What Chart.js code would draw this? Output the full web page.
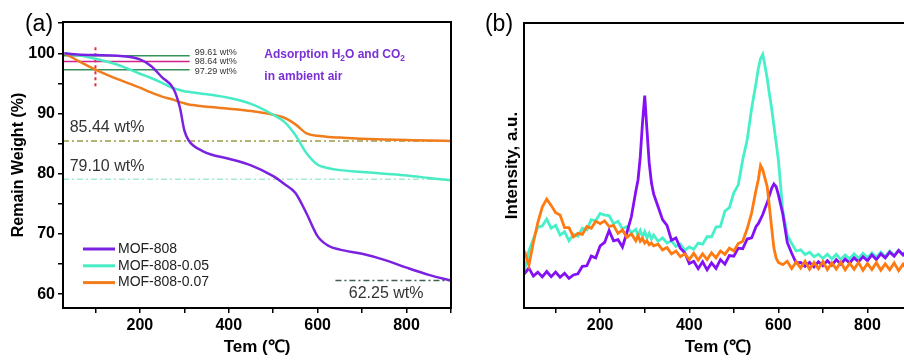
<!DOCTYPE html>
<html>
<head>
<meta charset="utf-8">
<script src="https://cdn.jsdelivr.net/npm/chart.js@4.4.0/dist/chart.umd.min.js"></script>
<style>
  html, body { margin: 0; padding: 0; background: #fff; }
  #wrap { position: relative; width: 904px; height: 360px; overflow: hidden; }
  .box { position: absolute; top: 0; width: 460px; height: 360px; }
  canvas { display: block; }
</style>
</head>
<body>
<div id="wrap">
  <div class="box" style="left:0"><canvas id="tgaChart" width="460" height="360"></canvas></div>
  <div class="box" style="left:460px"><canvas id="tpdChart" width="460" height="360"></canvas></div>
</div>
<script>
// ---- panel (a): TGA ----
const tgaTemp = [30, 60, 100, 150, 200, 225, 250, 275, 290, 300, 310, 320, 340, 360, 400, 450, 500, 525, 550, 575, 600, 625, 650, 700, 750, 800, 850, 900];
const tgaMOF808 = [100.0, 99.8, 99.7, 99.6, 99.0, 97.9, 96.0, 94.2, 91.0, 87.2, 85.5, 84.7, 83.8, 83.2, 82.5, 81.4, 79.6, 78.3, 76.8, 73.4, 69.6, 68.0, 67.4, 66.7, 65.7, 64.4, 63.2, 62.25];
const tgaMOF808_005 = [100.0, 99.7, 99.1, 98.1, 96.6, 95.9, 95.1, 94.2, 93.9, 93.7, 93.6, 93.5, 93.3, 93.1, 92.6, 91.6, 89.8, 88.6, 86.4, 83.4, 81.5, 80.9, 80.6, 80.3, 80.0, 79.7, 79.3, 78.9];
const tgaMOF808_007 = [100.0, 98.8, 97.3, 95.7, 94.3, 93.5, 92.8, 92.3, 91.9, 91.7, 91.5, 91.4, 91.2, 91.1, 90.8, 90.4, 89.8, 89.3, 88.2, 86.7, 86.3, 86.1, 86.0, 85.8, 85.7, 85.6, 85.5, 85.44];

const residueLevels = [85.44, 79.10, 62.25];
const residueStart = [27, 27, 640];
const waterLevels = [99.61, 98.64, 97.29];
const waterEnd = 312;
const markTemp = 100;
const markRange = [101.0, 94.4];

const seriesNames = ['MOF-808', 'MOF-808-0.05', 'MOF-808-0.07'];

// ---- panel (b): intensity vs temperature (a.u.) ----
const tpdTemp = [30, 40, 50, 60, 70, 80, 90, 100, 110, 120, 130, 140, 150, 160, 170, 180, 190, 200, 210, 220, 230, 240, 250, 260, 270, 280,
  285, 290, 295, 300, 305, 310, 315, 320,
  330, 340, 350, 360, 370, 380, 390, 400, 410, 420, 430, 440, 450, 460, 470, 480, 490, 500, 510, 520, 530, 540, 550,
  555, 560, 565, 570, 575, 580, 585, 590, 595, 600,
  610, 620, 630, 640, 650, 660, 670, 680, 690, 700, 710, 720, 730, 740, 750, 760, 770, 780, 790, 800, 810, 820, 830, 840, 850, 860, 870, 880, 890, 900];
const tpdMOF808 = [12.0, 14.0, 11.2, 12.6, 10.9, 12.8, 11.0, 12.6, 10.8, 12.2, 10.4, 11.6, 12.0, 14.6, 14.8, 18.2, 17.6, 21.8, 23.0, 27.2, 23.6, 24.0, 21.4, 26.5, 32.0, 41.0,
  45.0, 53.0, 65.0, 74.5, 62.5, 51.0, 44.0, 40.0,
  35.5, 31.0, 29.0, 23.8, 24.6, 21.0, 19.4, 15.6, 16.4, 13.8, 16.2, 13.4, 15.8, 13.9, 17.0, 15.4, 18.4, 18.2, 21.0, 20.8, 24.2, 24.6, 28.6,
  29.6, 31.2, 32.8, 35.0, 37.0, 39.5, 42.0, 43.5, 42.6, 39.8,
  33.0, 23.0, 19.2, 15.8, 16.0, 14.6, 16.0, 14.4, 16.2, 14.8, 16.6, 15.0, 17.0, 15.4, 17.2, 15.8, 17.6, 16.2, 18.0, 16.6, 18.6, 17.0, 19.0, 17.6, 19.6, 18.2, 20.2, 18.6, 20.4, 19.4];
const tpdMOF808_005 = [13.0, 20.0, 24.2, 28.4, 28.8, 31.2, 28.0, 29.0, 25.6, 26.8, 23.6, 25.8, 25.2, 28.0, 27.4, 31.0, 30.6, 33.2, 32.6, 32.4, 29.6, 30.4, 27.8, 28.6, 26.4, 27.6,
  25.4, 27.2, 25.0, 26.8, 24.6, 26.2, 24.2, 25.6,
  23.4, 24.6, 22.8, 23.6, 21.6, 22.4, 20.2, 21.4, 20.6, 22.8, 22.4, 25.0, 25.0, 28.4, 28.6, 34.0, 35.2, 40.4, 43.2, 52.0, 59.0, 70.0, 79.0,
  84.0, 87.5, 89.0, 85.0, 80.5, 75.0, 70.0, 64.0, 58.0, 52.0,
  34.0, 25.5, 22.6, 20.0, 20.4, 18.8, 19.6, 18.0, 18.9, 17.4, 18.9, 17.2, 18.8, 17.0, 18.6, 17.2, 19.0, 17.4, 19.2, 17.6, 19.4, 17.8, 19.6, 18.0, 20.0, 18.4, 20.2, 18.6, 20.4, 19.5];
const tpdMOF808_007 = [20.0, 15.0, 23.0, 30.0, 35.4, 38.2, 36.0, 33.4, 32.6, 28.2, 28.2, 25.0, 26.2, 25.8, 28.6, 28.0, 30.4, 29.6, 30.6, 28.6, 29.0, 26.2, 27.4, 24.8, 26.0, 23.6,
  25.4, 23.4, 24.4, 22.8, 23.6, 22.2, 22.8, 21.8,
  22.4, 20.4, 21.2, 19.0, 20.0, 18.0, 19.0, 17.0, 19.2, 16.8, 19.0, 17.0, 19.4, 17.6, 20.0, 18.8, 21.0, 20.0, 22.6, 23.4, 27.8, 33.4, 41.5,
  45.0, 50.0, 48.5, 45.5, 42.5, 35.5, 28.0, 21.0, 17.5, 16.0,
  15.2, 16.4, 13.8, 16.2, 14.0, 16.4, 13.6, 16.0, 13.8, 16.3, 13.5, 15.8, 13.7, 16.1, 13.4, 15.7, 13.6, 16.0, 13.2, 15.6, 13.5, 15.9, 13.3, 15.5, 13.4, 15.8, 13.1, 15.4, 13.3, 14.4];

const FONT = '"Liberation Sans", Arial, sans-serif';
const colorsA = ['#7a22e0', '#48ecc4', '#f07c1c'];
const colorsB = ['#8410f5', '#46f0c8', '#ff7a10'];

Chart.defaults.font.family = FONT;
Chart.defaults.color = '#000';

function pts(xs, ys) {
  return xs.map((t, i) => ({ x: t, y: ys[i] }));
}

function richText(ctx, parts, x, y, size) {
  parts.forEach(([t, sub]) => {
    ctx.font = 'bold ' + (sub ? size * 0.7 : size) + 'px ' + FONT;
    ctx.fillText(t, x, sub ? y + size * 0.3 : y);
    x += ctx.measureText(t).width;
  });
}

const framePlugin = {
  id: 'frame',
  afterDraw(chart) {
    const { ctx, chartArea: a } = chart;
    ctx.save();
    ctx.strokeStyle = '#000';
    ctx.lineWidth = 2;
    ctx.strokeRect(a.left, a.top, a.right - a.left, a.bottom - a.top);
    ctx.font = '23px ' + FONT;
    ctx.fillStyle = '#000';
    ctx.textAlign = 'center';
    ctx.textBaseline = 'middle';
    ctx.fillText(chart.options.plugins.frame.label, 39, 25);
    ctx.restore();
  }
};

const tgaNotes = {
  id: 'tgaNotes',
  afterDatasetsDraw(chart) {
    const { ctx, scales: { x, y }, chartArea: a } = chart;
    ctx.save();
    ctx.textBaseline = 'middle';
    ctx.fillStyle = '#333';
    // residue labels
    ctx.font = '16px ' + FONT;
    const labelX = [42, 42, 670];
    const labelDy = [-13, -13, 13];
    residueLevels.forEach((v, i) => {
      ctx.fillText(v.toFixed(2) + ' wt%', x.getPixelForValue(labelX[i]), y.getPixelForValue(v) + labelDy[i]);
    });
    // water labels
    ctx.font = '9px ' + FONT;
    const wDy = [-3.5, 0, 1.5];
    waterLevels.forEach((v, i) => {
      ctx.fillText(v.toFixed(2) + ' wt%', x.getPixelForValue(waterEnd) + 5, y.getPixelForValue(v) + wDy[i]);
    });
    // note
    ctx.fillStyle = '#7b2fd6';
    richText(ctx, [['Adsorption H', false], ['2', true], ['O and CO', false], ['2', true]], x.getPixelForValue(480), y.getPixelForValue(99.7), 12);
    richText(ctx, [['in ambient air', false]], x.getPixelForValue(480), y.getPixelForValue(96.1), 12);
    // legend
    ctx.font = '14px ' + FONT;
    ctx.fillStyle = '#222';
    seriesNames.forEach((name, i) => {
      const ly = a.top + 227 + i * 16.8;
      ctx.strokeStyle = colorsA[i];
      ctx.lineWidth = 3;
      ctx.beginPath();
      ctx.moveTo(a.left + 20, ly);
      ctx.lineTo(a.left + 52, ly);
      ctx.stroke();
      ctx.fillText(name, a.left + 55, ly);
    });
    ctx.restore();
  }
};

function xScale(min) {
  return {
    type: 'linear', min: min, max: 900,
    afterFit: s => { s.height = 52; },
    border: { display: false },
    grid: { drawOnChartArea: false, drawTicks: true, tickLength: 5, color: '#000', lineWidth: 1.5 },
    ticks: {
      stepSize: 100, autoSkip: false, includeBounds: false, maxRotation: 0, padding: 3,
      font: { size: 16, weight: 'bold' },
      callback: v => v % 200 === 0 ? v : ''
    },
    title: { display: true, text: 'Tem (℃)', font: { size: 17, weight: 'bold' }, padding: { top: 0, bottom: 2 } }
  };
}

const refSets = [];
residueLevels.forEach((v, i) => {
  refSets.push({
    data: [{ x: residueStart[i], y: v }, { x: 900, y: v }],
    borderColor: ['#9a9a44', '#a6e8d2', '#3f5f4f'][i],
    borderWidth: 1.5, borderDash: [6, 3, 2, 3], pointRadius: 0
  });
});
waterLevels.forEach((v, i) => {
  refSets.push({
    data: [{ x: 27, y: v }, { x: waterEnd, y: v }],
    borderColor: ['#35915a', '#d0208c', '#35915a'][i],
    borderWidth: 1.5, pointRadius: 0
  });
});
refSets.push({
  data: [{ x: markTemp, y: markRange[0] }, { x: markTemp, y: markRange[1] }],
  borderColor: '#e0303a', borderWidth: 2, borderDash: [3, 3], pointRadius: 0
});

const tgaSeries = [tgaMOF808, tgaMOF808_005, tgaMOF808_007];

new Chart(document.getElementById('tgaChart'), {
  type: 'line',
  data: {
    datasets: tgaSeries.map((s, i) => ({
      label: seriesNames[i],
      data: pts(tgaTemp, s),
      borderColor: colorsA[i],
      borderWidth: 2.5,
      pointRadius: 0,
      cubicInterpolationMode: 'monotone'
    })).concat(refSets)
  },
  options: {
    responsive: false,
    animation: false,
    devicePixelRatio: 1,
    layout: { padding: { top: 22, right: 9, left: 0, bottom: 0 } },
    plugins: { legend: { display: false }, tooltip: { enabled: false }, frame: { label: '(a)' } },
    scales: {
      x: xScale(27),
      y: {
        min: 57.7, max: 105.2,
        afterFit: s => { s.width = 63; },
        border: { display: false },
        grid: { drawOnChartArea: false, tickLength: 5, color: '#000', lineWidth: 1.5 },
        ticks: {
          stepSize: 5, autoSkip: false, includeBounds: false, padding: 3,
          font: { size: 16, weight: 'bold' },
          callback: v => v % 10 === 0 ? v : ''
        },
        title: { display: true, text: 'Remain Weight (%)', font: { size: 16, weight: 'bold' }, padding: { top: 9, bottom: 0 } }
      }
    }
  },
  plugins: [framePlugin, tgaNotes]
});

// orange on top, cyan at the bottom
const tpdOrder = [2, 0, 1];
const tpdSeries = [tpdMOF808, tpdMOF808_005, tpdMOF808_007];

new Chart(document.getElementById('tpdChart'), {
  type: 'line',
  data: {
    datasets: tpdOrder.map(i => ({
      label: seriesNames[i],
      data: pts(tpdTemp, tpdSeries[i]),
      borderColor: colorsB[i],
      borderWidth: 2.8,
      pointRadius: 0,
      tension: 0
    }))
  },
  options: {
    responsive: false,
    animation: false,
    devicePixelRatio: 1,
    layout: { padding: { top: 23, right: 8, left: 0, bottom: 0 } },
    plugins: { legend: { display: false }, tooltip: { enabled: false }, frame: { label: '(b)' } },
    scales: {
      x: xScale(29),
      y: {
        min: 0, max: 100,
        afterFit: s => { s.width = 64; },
        border: { display: false },
        grid: { display: false },
        ticks: { display: false },
        title: { display: true, text: 'Intensity, a.u.', font: { size: 17, weight: 'bold' }, padding: { top: 42, bottom: 0 } }
      }
    }
  },
  plugins: [framePlugin]
});
</script>
</body>
</html>
